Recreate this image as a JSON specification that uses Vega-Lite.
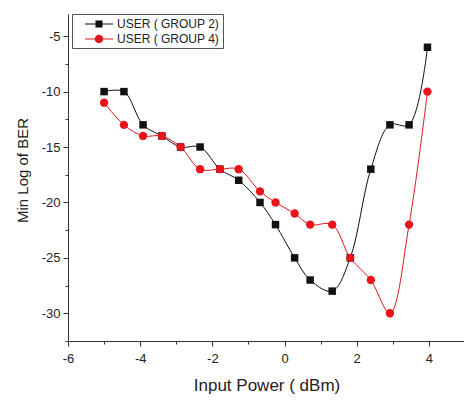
{
  "$schema": "https://vega.github.io/schema/vega-lite/v6.json",
  "width": 397,
  "height": 327,
  "autosize": "none",
  "padding": {"left": 68, "top": 14, "right": 0, "bottom": 59},
  "config": {
    "view": {"stroke": null},
    "font": "Liberation Sans",
    "axis": {"grid": false, "domainColor": "#333", "tickColor": "#333", "labelColor": "#222", "titleColor": "#222", "titleFontWeight": "normal", "labelFont": "Liberation Sans", "titleFont": "Liberation Sans"},
    "legend": {
      "title": null, "orient": "none", "legendX": 4, "legendY": 0,
      "padding": 3, "rowPadding": 2, "symbolSize": 196, "symbolOffset": 17, "labelOffset": 11,
      "labelFont": "Liberation Sans", "labelFontSize": 12, "labelColor": "#222",
      "strokeColor": "#555", "fillColor": "#ffffff"
    }
  },
  "data": {
    "values": [
      {"power": -5.0, "ber": -10, "series": "USER ( GROUP 2)"},
      {"power": -4.45, "ber": -10, "series": "USER ( GROUP 2)"},
      {"power": -3.92, "ber": -13, "series": "USER ( GROUP 2)"},
      {"power": -3.40, "ber": -14, "series": "USER ( GROUP 2)"},
      {"power": -2.88, "ber": -15, "series": "USER ( GROUP 2)"},
      {"power": -2.34, "ber": -15, "series": "USER ( GROUP 2)"},
      {"power": -1.79, "ber": -17, "series": "USER ( GROUP 2)"},
      {"power": -1.27, "ber": -18, "series": "USER ( GROUP 2)"},
      {"power": -0.68, "ber": -20, "series": "USER ( GROUP 2)"},
      {"power": -0.25, "ber": -22, "series": "USER ( GROUP 2)"},
      {"power": 0.28, "ber": -25, "series": "USER ( GROUP 2)"},
      {"power": 0.71, "ber": -27, "series": "USER ( GROUP 2)"},
      {"power": 1.32, "ber": -28, "series": "USER ( GROUP 2)"},
      {"power": 1.82, "ber": -25, "series": "USER ( GROUP 2)"},
      {"power": 2.39, "ber": -17, "series": "USER ( GROUP 2)"},
      {"power": 2.92, "ber": -13, "series": "USER ( GROUP 2)"},
      {"power": 3.45, "ber": -13, "series": "USER ( GROUP 2)"},
      {"power": 3.96, "ber": -6, "series": "USER ( GROUP 2)"},
      {"power": -5.0, "ber": -11, "series": "USER ( GROUP 4)"},
      {"power": -4.45, "ber": -13, "series": "USER ( GROUP 4)"},
      {"power": -3.92, "ber": -14, "series": "USER ( GROUP 4)"},
      {"power": -3.40, "ber": -14, "series": "USER ( GROUP 4)"},
      {"power": -2.88, "ber": -15, "series": "USER ( GROUP 4)"},
      {"power": -2.34, "ber": -17, "series": "USER ( GROUP 4)"},
      {"power": -1.79, "ber": -17, "series": "USER ( GROUP 4)"},
      {"power": -1.27, "ber": -17, "series": "USER ( GROUP 4)"},
      {"power": -0.68, "ber": -19, "series": "USER ( GROUP 4)"},
      {"power": -0.25, "ber": -20, "series": "USER ( GROUP 4)"},
      {"power": 0.28, "ber": -21, "series": "USER ( GROUP 4)"},
      {"power": 0.71, "ber": -22, "series": "USER ( GROUP 4)"},
      {"power": 1.32, "ber": -22, "series": "USER ( GROUP 4)"},
      {"power": 1.82, "ber": -25, "series": "USER ( GROUP 4)"},
      {"power": 2.39, "ber": -27, "series": "USER ( GROUP 4)"},
      {"power": 2.92, "ber": -30, "series": "USER ( GROUP 4)"},
      {"power": 3.45, "ber": -22, "series": "USER ( GROUP 4)"},
      {"power": 3.96, "ber": -10, "series": "USER ( GROUP 4)"}
    ]
  },
  "resolve": {"axis": {"x": "independent", "y": "independent"}},
  "layer": [
    {
      "mark": {"type": "line", "interpolate": "catmull-rom", "strokeWidth": 1},
      "encoding": {
        "x": {"field": "power", "type": "quantitative",
          "scale": {"domain": [-6, 5], "nice": false, "zero": false},
          "axis": {"orient": "bottom", "values": [-6, -4, -2, 0, 2, 4], "title": "Input Power ( dBm)", "tickSize": 5, "labelFontSize": 13, "titleFontSize": 17, "labelPadding": 6, "titlePadding": 12, "labelFlush": false, "labelExpr": "'' + datum.value"}},
        "y": {"field": "ber", "type": "quantitative",
          "scale": {"domain": [-32.5, -3], "nice": false, "zero": false},
          "axis": {"orient": "left", "values": [-30, -25, -20, -15, -10, -5], "title": "Min Log of BER", "tickSize": 5, "labelFontSize": 13, "titleFontSize": 15, "labelPadding": 3, "titlePadding": 11, "labelExpr": "'' + datum.value", "titleY": 156}},
        "color": {"field": "series", "type": "nominal",
          "scale": {"domain": ["USER ( GROUP 2)", "USER ( GROUP 4)"], "range": ["#111111", "#e0161c"]},
          "legend": {
            "encode": {"symbols": {"update": {
              "shape": {"signal": "datum.value === 'USER ( GROUP 2)' ? 'M-2,-0.07H2V0.07H-2Z M-0.5,-0.5H0.5V0.5H-0.5Z' : 'M-2,-0.07H2V0.07H-2Z M-0.6,0A0.6,0.6,0,1,1,0.6,0A0.6,0.6,0,1,1,-0.6,0Z'"},
              "size": {"value": 196},
              "strokeWidth": {"value": 0},
              "stroke": {"value": "transparent"},
              "fill": {"signal": "datum.value === 'USER ( GROUP 2)' ? '#111111' : '#e0161c'"},
              "opacity": {"value": 1},
              "fillOpacity": {"value": 1}
            }}}
          }}
      }
    },
    {
      "transform": [{"filter": "datum.series === 'USER ( GROUP 2)'"}],
      "mark": {"type": "point", "filled": true, "opacity": 1, "size": 56, "shape": "square", "color": "#111111"},
      "encoding": {
        "x": {"field": "power", "type": "quantitative",
          "axis": {"orient": "bottom", "values": [-5, -3, -1, 1, 3], "labels": false, "domain": false, "tickSize": 3, "title": null}},
        "y": {"field": "ber", "type": "quantitative",
          "axis": {"orient": "left", "values": [-32.5, -27.5, -22.5, -17.5, -12.5, -7.5], "labels": false, "domain": false, "tickSize": 3, "title": null}}
      }
    },
    {
      "transform": [{"filter": "datum.series === 'USER ( GROUP 4)'"}],
      "mark": {"type": "point", "filled": true, "opacity": 1, "size": 70, "shape": "circle", "color": "#e8141a"},
      "encoding": {
        "x": {"field": "power", "type": "quantitative", "axis": null},
        "y": {"field": "ber", "type": "quantitative", "axis": null}
      }
    }
  ]
}
